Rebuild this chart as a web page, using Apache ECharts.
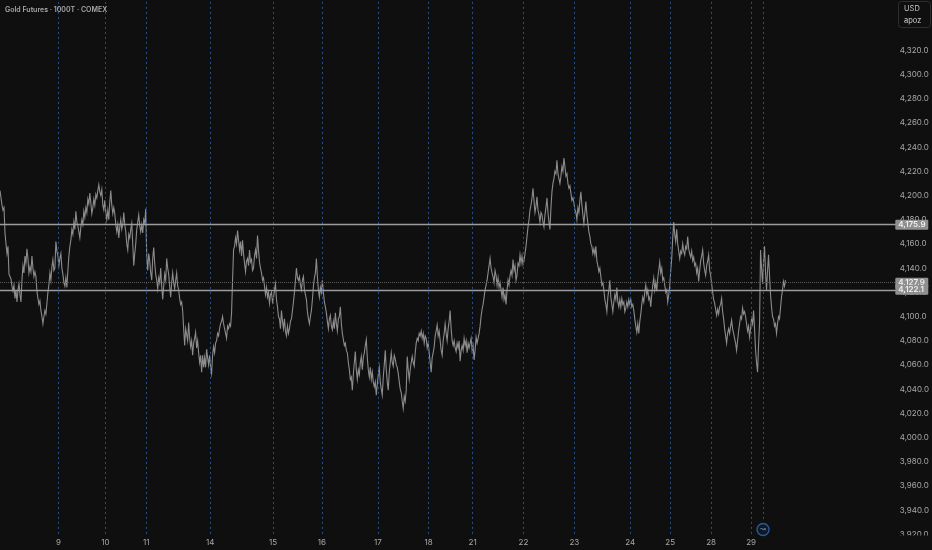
<!DOCTYPE html>
<html><head><meta charset="utf-8">
<style>html,body{margin:0;padding:0;background:#0f0f0f}#c{width:932px;height:550px}</style>
<script src="https://cdn.jsdelivr.net/npm/echarts@6/dist/echarts.min.js"></script>
</head><body><div id="c"></div>
<script>
const title = 'Gold Futures · 1000T · COMEX';
const dayBars = [58.5,105.5,146.5,210.5,273.5,322.5,378.5,429.5,473.5,524.5,575.5,631.5,671.5,712.5,752.5];
const dayLabels = ['9','10','11','14','15','16','17','18','21','22','23','24','25','28','29'];
const eventBar = 764.5;
const levels = [4175.9,4122.1];
const lastPrice = 4127.9;
const pricePath = [
[0,4204],[1,4198],[2,4192],[3,4188],[4,4190],[5,4169],[6,4160],[7,4152],[8,4158],[9,4135],[10,4133],[11,4131],[12,4125],[13,4121],[14,4126],[15,4115],[16,4122],[17,4112],[18,4122],[19,4127],[20,4118],[21,4112],[22,4130],[23,4142],[24,4136],[25,4150],[26,4144],[27,4156],[28,4148],[29,4136],[30,4141],[31,4137],[32,4150],[33,4140],[34,4133],[35,4137],[36,4133],[37,4121],[38,4115],[39,4110],[40,4113],[41,4105],[42,4100],[43,4094],[44,4100],[45,4105],[46,4102],[47,4111],[48,4120],[49,4126],[50,4136],[51,4130],[52,4141],[53,4147],[54,4138],[55,4140],[56,4162],[57,4154],[58,4150],[59,4142],[60,4148],[61,4152],[62,4140],[63,4135],[64,4128],[65,4125],[66,4132],[67,4124],[68,4138],[69,4150],[70,4158],[71,4163],[72,4172],[73,4168],[74,4178],[75,4172],[76,4187],[77,4178],[78,4175],[79,4170],[80,4165],[81,4174],[82,4180],[83,4176],[84,4187],[85,4182],[86,4190],[87,4186],[88,4197],[89,4193],[90,4202],[91,4194],[92,4185],[93,4190],[94,4197],[95,4192],[96,4201],[97,4198],[98,4204],[99,4209],[100,4203],[101,4200],[102,4205],[103,4192],[104,4188],[105,4196],[106,4186],[107,4180],[108,4188],[109,4180],[110,4195],[111,4204],[112,4192],[113,4185],[114,4190],[115,4185],[116,4176],[117,4170],[118,4176],[119,4165],[120,4174],[121,4180],[122,4172],[123,4176],[124,4186],[125,4176],[126,4170],[127,4160],[128,4155],[129,4168],[130,4165],[131,4172],[132,4177],[133,4160],[134,4142],[135,4152],[136,4160],[137,4172],[138,4178],[139,4184],[140,4175],[141,4170],[142,4176],[143,4169],[144,4180],[145,4177],[146,4189],[147,4150],[148,4138],[149,4152],[150,4146],[151,4136],[152,4130],[153,4148],[154,4157],[155,4144],[156,4135],[157,4130],[158,4123],[159,4132],[160,4128],[161,4140],[162,4125],[163,4114],[164,4125],[165,4135],[166,4130],[167,4148],[168,4140],[169,4135],[170,4125],[171,4116],[172,4128],[173,4136],[174,4128],[175,4123],[176,4130],[177,4136],[178,4125],[179,4122],[180,4115],[181,4110],[182,4112],[183,4105],[184,4090],[185,4076],[186,4090],[187,4085],[188,4080],[189,4095],[190,4082],[191,4075],[192,4080],[193,4068],[194,4078],[195,4082],[196,4087],[197,4074],[198,4080],[199,4070],[200,4062],[201,4068],[202,4054],[203,4068],[204,4058],[205,4066],[206,4058],[207,4073],[208,4066],[209,4060],[210,4068],[211,4058],[212,4053],[213,4068],[214,4075],[215,4070],[216,4078],[217,4080],[218,4086],[219,4084],[220,4090],[221,4094],[222,4096],[223,4100],[224,4094],[225,4090],[226,4086],[227,4082],[228,4092],[229,4090],[230,4094],[231,4092],[232,4103],[233,4130],[234,4155],[235,4158],[236,4165],[237,4160],[238,4171],[239,4163],[240,4155],[241,4162],[242,4150],[243,4163],[244,4152],[245,4144],[246,4137],[247,4146],[248,4148],[249,4142],[250,4155],[251,4145],[252,4147],[253,4138],[254,4140],[255,4150],[256,4155],[257,4148],[258,4167],[259,4155],[260,4145],[261,4140],[262,4136],[263,4130],[264,4132],[265,4125],[266,4118],[267,4124],[268,4116],[269,4120],[270,4111],[271,4118],[272,4120],[273,4112],[274,4115],[275,4122],[276,4127],[277,4114],[278,4108],[279,4100],[280,4098],[281,4090],[282,4105],[283,4096],[284,4090],[285,4098],[286,4088],[287,4084],[288,4092],[289,4086],[290,4090],[291,4096],[292,4098],[293,4105],[294,4112],[295,4120],[296,4130],[297,4140],[298,4132],[299,4130],
[300,4133],[301,4126],[302,4122],[303,4130],[304,4133],[305,4122],[306,4118],[307,4114],[308,4104],[309,4098],[310,4094],[311,4100],[312,4105],[313,4114],[314,4125],[315,4132],[316,4136],[317,4148],[318,4133],[319,4122],[320,4116],[321,4124],[322,4120],[323,4130],[324,4120],[325,4112],[326,4108],[327,4103],[328,4096],[329,4090],[330,4098],[331,4101],[332,4092],[333,4089],[334,4096],[335,4090],[336,4103],[337,4094],[338,4088],[339,4098],[340,4100],[341,4108],[342,4094],[343,4086],[344,4081],[345,4076],[346,4078],[347,4072],[348,4070],[349,4062],[350,4056],[351,4048],[352,4050],[353,4039],[354,4052],[355,4062],[356,4071],[357,4056],[358,4048],[359,4056],[360,4052],[361,4062],[362,4067],[363,4056],[364,4066],[365,4070],[366,4076],[367,4081],[368,4066],[369,4056],[370,4050],[371,4058],[372,4048],[373,4054],[374,4046],[375,4042],[376,4046],[377,4035],[378,4044],[379,4052],[380,4058],[381,4046],[382,4040],[383,4035],[384,4050],[385,4060],[386,4072],[387,4056],[388,4046],[389,4039],[390,4054],[391,4062],[392,4070],[393,4062],[394,4059],[395,4068],[396,4065],[397,4060],[398,4058],[399,4053],[400,4046],[401,4040],[402,4037],[403,4030],[404,4024],[405,4034],[406,4030],[407,4039],[408,4067],[409,4056],[410,4048],[411,4056],[412,4062],[413,4067],[414,4062],[415,4059],[416,4070],[417,4078],[418,4082],[419,4080],[420,4086],[421,4084],[422,4088],[423,4082],[424,4086],[425,4078],[426,4084],[427,4082],[428,4074],[429,4078],[430,4070],[431,4062],[432,4054],[433,4066],[434,4070],[435,4075],[436,4084],[437,4088],[438,4093],[439,4084],[440,4088],[441,4080],[442,4072],[443,4068],[444,4080],[445,4086],[446,4094],[447,4086],[448,4080],[449,4090],[450,4096],[451,4105],[452,4090],[453,4080],[454,4076],[455,4080],[456,4074],[457,4071],[458,4078],[459,4074],[460,4080],[461,4063],[462,4072],[463,4076],[464,4072],[465,4082],[466,4076],[467,4080],[468,4070],[469,4078],[470,4074],[471,4078],[472,4082],[473,4072],[474,4076],[475,4064],[476,4072],[477,4083],[478,4078],[479,4082],[480,4086],[481,4092],[482,4100],[483,4106],[484,4110],[485,4116],[486,4122],[487,4126],[488,4130],[489,4136],[490,4142],[491,4148],[492,4140],[493,4136],[494,4133],[495,4128],[496,4138],[497,4134],[498,4126],[499,4132],[500,4124],[501,4128],[502,4122],[503,4116],[504,4124],[505,4114],[506,4118],[507,4110],[508,4122],[509,4130],[510,4126],[511,4134],[512,4138],[513,4134],[514,4147],[515,4138],[516,4142],[517,4130],[518,4134],[519,4144],[520,4142],[521,4151],[522,4144],[523,4150],[524,4143],[525,4146],[526,4152],[527,4158],[528,4166],[529,4174],[530,4180],[531,4188],[532,4192],[533,4198],[534,4206],[535,4196],[536,4186],[537,4191],[538,4199],[539,4188],[540,4184],[541,4178],[542,4186],[543,4184],[544,4178],[545,4174],[546,4184],[547,4190],[548,4198],[549,4186],[550,4178],[551,4172],[552,4190],[553,4203],[554,4210],[555,4214],[556,4220],[557,4218],[558,4229],[559,4218],[560,4214],[561,4210],[562,4216],[563,4224],[564,4220],[565,4231],[566,4224],[567,4216],[568,4218],[569,4210],[570,4206],[571,4208],[572,4202],[573,4196],[574,4198],[575,4194],[576,4188],[577,4186],[578,4180],[579,4190],[580,4186],[581,4196],[582,4203],[583,4192],[584,4184],[585,4177],[586,4186],[587,4195],[588,4184],[589,4177],[590,4170],[591,4166],[592,4160],[593,4158],[594,4152],[595,4156],[596,4151],[597,4158],[598,4146],[599,4142],[600,4137],
[601,4140],[602,4133],[603,4126],[604,4128],[605,4122],[606,4114],[607,4110],[608,4104],[609,4116],[610,4122],[611,4130],[612,4116],[613,4110],[614,4104],[615,4112],[616,4118],[617,4114],[618,4124],[619,4112],[620,4108],[621,4114],[622,4108],[623,4115],[624,4110],[625,4112],[626,4104],[627,4107],[628,4112],[629,4108],[630,4114],[631,4110],[632,4114],[633,4108],[634,4110],[635,4105],[636,4098],[637,4092],[638,4087],[639,4094],[640,4086],[641,4096],[642,4102],[643,4110],[644,4116],[645,4112],[646,4120],[647,4126],[648,4118],[649,4122],[650,4114],[651,4116],[652,4108],[653,4118],[654,4126],[655,4132],[656,4122],[657,4128],[658,4121],[659,4132],[660,4138],[661,4145],[662,4136],[663,4140],[664,4130],[665,4132],[666,4126],[667,4120],[668,4122],[669,4112],[670,4118],[671,4125],[672,4138],[673,4148],[674,4165],[675,4178],[676,4168],[677,4162],[678,4172],[679,4160],[680,4154],[681,4148],[682,4154],[683,4152],[684,4160],[685,4154],[686,4151],[687,4158],[688,4156],[689,4166],[690,4156],[691,4152],[692,4149],[693,4154],[694,4146],[695,4149],[696,4142],[697,4144],[698,4136],[699,4140],[700,4129],[701,4138],[702,4146],[703,4150],[704,4155],[705,4144],[706,4138],[707,4134],[708,4142],[709,4146],[710,4151],[711,4138],[712,4134],[713,4127],[714,4120],[715,4114],[716,4111],[717,4106],[718,4101],[719,4106],[720,4102],[721,4108],[722,4110],[723,4115],[724,4104],[725,4098],[726,4090],[727,4084],[728,4078],[729,4086],[730,4090],[731,4086],[732,4092],[733,4097],[734,4090],[735,4086],[736,4082],[737,4078],[738,4072],[739,4080],[740,4088],[741,4094],[742,4100],[743,4098],[744,4107],[745,4102],[746,4104],[747,4100],[748,4094],[749,4088],[750,4092],[751,4083],[752,4090],[753,4098],[754,4094],[755,4105],[756,4090],[757,4072],[758,4062],[759,4054],[760,4076],[761,4094],[762,4155],[763,4140],[764,4127],[765,4145],[766,4158],[767,4136],[768,4122],[769,4138],[770,4151],[771,4134],[772,4118],[773,4108],[774,4100],[775,4098],[776,4092],[777,4094],[778,4086],[779,4094],[780,4100],[781,4098],[782,4107],[783,4116],[784,4122],[785,4129],[786,4125],[787,4130]
];

const chart = echarts.init(document.getElementById('c'), null, {renderer:'canvas'});
const BG = '#0f0f0f', FONT = 'Inter, "DejaVu Sans", sans-serif';
const fmt = v => v.toLocaleString('en-US',{minimumFractionDigits:1,maximumFractionDigits:1});
const boxLabel = { show:true, position:'end', distance:-1, formatter:p=>fmt(p.value), color:'#f0f0f0',
  backgroundColor:'#8f8f8f', fontFamily:FONT, fontSize:8, fontWeight:600, width:28, align:'left', padding:[1,2,1,3], borderRadius:1 };
chart.setOption({
  animation:false, backgroundColor:BG,
  title:{ text:title, left:0, top:1, textStyle:{color:'#a8a8a8',fontSize:7,fontWeight:600,fontFamily:FONT} },
  grid:{ left:0, top:1.9, width:898, height:532.4, containLabel:false },
  xAxis:{ type:'value', min:0, max:898, z:10, axisLine:{show:false}, axisTick:{show:false}, splitLine:{show:false},
    axisLabel:{ show:true, customValues:dayBars, margin:4, color:'#a8a8a8', fontSize:8, fontFamily:FONT,
      formatter:v=>{const i=dayBars.indexOf(v);return i>=0?dayLabels[i]:'';} } },
  yAxis:{ type:'value', position:'right', min:3920, max:4360, interval:20, z:1, axisLine:{show:false}, axisTick:{show:false}, splitLine:{show:false},
    axisLabel:{ margin:3.5, color:'#a8a8a8', fontSize:8, fontFamily:FONT, showMinLabel:true, showMaxLabel:false,
      formatter:v=>v>4320?'':fmt(v) } },
  graphic:{ elements:[
    {type:'rect',z:5,silent:true,shape:{x:0,y:535.6,width:932,height:15},style:{fill:BG}},
    {type:'rect',z:6,silent:true,shape:{x:898.5,y:1.5,width:32,height:26,r:3},style:{fill:BG,stroke:'#2e2e2e',lineWidth:1}},
    {type:'text',z:7,silent:true,style:{x:904,y:5,text:'USD',fill:'#c4c4c4',fontSize:7.5,fontFamily:FONT}},
    {type:'text',z:7,silent:true,style:{x:904,y:16.5,text:'apoz',fill:'#d0d0d0',fontSize:7.5,fontFamily:FONT}}
  ]},
  series:[
    { name:'days', type:'line', data:[], silent:true, z:2,
      markLine:{ silent:true, symbol:'none', animation:false,
        data:[
          ...dayBars.map(b=>[{coord:[b,4360]},{coord:[b,3920]}]),
          [{coord:[eventBar,4360]},{coord:[eventBar,3931]}]
        ],
        lineStyle:{color:'#26528f',type:[2,3],width:1}, label:{show:false} } },
    { name:'lines', type:'line', data:[], silent:true, z:3,
      markLine:{ silent:true, symbol:'none', animation:false, precision:1,
        data:[
          {yAxis:lastPrice,lineStyle:{color:'#5a5a5a',width:1,type:'dotted'}},
          ...levels.map(v=>({yAxis:v,lineStyle:{color:'#9c9c9c',width:1.3,type:'solid'}}))
        ],
        label:boxLabel } },
    { name:'GC', type:'line', data:pricePath, showSymbol:false, smooth:false, z:4, silent:true,
      lineStyle:{color:'#8c8c8c',width:1.1,join:'miter'}, clip:false },
    { name:'event', type:'scatter', data:[[eventBar,3924]], z:6, symbol:'circle', symbolSize:12, silent:true,
      itemStyle:{color:'#0f1a2a',borderColor:'#2f6cb8',borderWidth:1.4},
      label:{show:true,position:'inside',formatter:'↝',color:'#8fb4e6',fontSize:7,fontFamily:'DejaVu Sans'} }
  ]
});
</script></body></html>
